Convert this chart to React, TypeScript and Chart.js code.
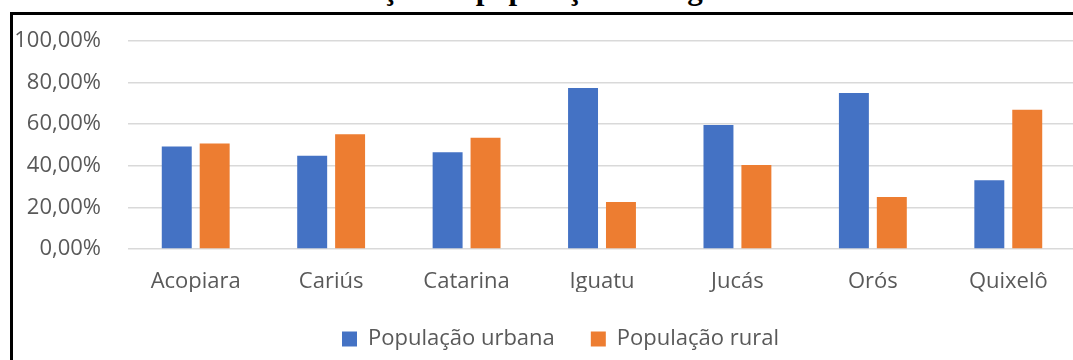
import React, { useEffect, useRef } from "react";
import { Chart, registerables } from "chart.js";

Chart.register(...registerables);

// Share of urban and rural population per municipality (%)
const municipios = ["Acopiara", "Cariús", "Catarina", "Iguatu", "Jucás", "Orós", "Quixelô"];
const populacaoUrbana = [49.3, 44.8, 46.5, 77.4, 59.6, 75.0, 33.0];
const populacaoRural = [50.7, 55.2, 53.5, 22.6, 40.4, 25.0, 67.0];
const seriesNames = ["População urbana", "População rural"];
const seriesColors = ["#4472C4", "#ED7D31"];
const yTickValues = [0, 20, 40, 60, 80, 100];
const titleText = "Distribuição da população na região";

const FONT = "'Open Sans', 'Noto Sans', sans-serif";
const TEXT_COLOR = "#595959";

const formatPct = (v: number) => v.toFixed(2).replace(".", ",") + "%";

// Nudges the legend row to the right so it sits under the plot area's centre.
const legendShift = {
  id: "legendShift",
  afterLayout(chart: any) {
    if (chart.legend) {
      chart.legend.left += 45;
    }
  },
};

export default function App() {
  const canvasRef = useRef<HTMLCanvasElement | null>(null);

  useEffect(() => {
    const canvas = canvasRef.current;
    if (!canvas) return;
    const chart = new Chart(canvas, {
      type: "bar",
      data: {
        labels: municipios,
        datasets: [
          {
            label: seriesNames[0],
            data: populacaoUrbana,
            backgroundColor: seriesColors[0],
            borderWidth: 0,
            categoryPercentage: 0.56,
            barPercentage: 0.79,
          },
          {
            label: seriesNames[1],
            data: populacaoRural,
            backgroundColor: seriesColors[1],
            borderWidth: 0,
            categoryPercentage: 0.56,
            barPercentage: 0.79,
          },
        ],
      },
      plugins: [legendShift],
      options: {
        responsive: false,
        animation: false,
        layout: { padding: { top: 41, left: 0, right: 0, bottom: 0 } },
        plugins: {
          title: { display: false },
          tooltip: { enabled: false },
          legend: {
            position: "bottom",
            align: "center",
            labels: {
              boxWidth: 15,
              boxHeight: 15,
              padding: 36,
              color: TEXT_COLOR,
              font: { family: FONT, size: 22 },
            },
          },
        },
        scales: {
          x: {
            grid: { display: false, drawTicks: false },
            border: { display: false },
            ticks: {
              color: TEXT_COLOR,
              padding: 20,
              font: { family: FONT, size: 22 },
              maxRotation: 0,
              autoSkip: false,
            },
            afterFit: (scale: any) => {
              scale.height = 43;
            },
          },
          y: {
            min: 0,
            max: 100,
            grid: { color: "#d9d9d9", lineWidth: 1.5, drawTicks: false },
            border: { display: false },
            afterBuildTicks: (scale: any) => {
              scale.ticks = yTickValues.map((v) => ({ value: v }));
            },
            ticks: {
              color: TEXT_COLOR,
              padding: 27,
              font: { family: FONT, size: 22 },
              callback: (v: any) => formatPct(Number(v)),
            },
            afterFit: (scale: any) => {
              scale.width = 128;
            },
          },
        },
      },
    });
    return () => chart.destroy();
  }, []);

  return (
    <div
      style={{
        position: "fixed",
        left: 0,
        top: 0,
        width: 1073,
        height: 360,
        overflow: "hidden",
        background: "#ffffff",
      }}
    >
      <div
        style={{
          position: "absolute",
          left: 264,
          top: -27,
          fontFamily: "'Liberation Serif', 'Times New Roman', serif",
          fontWeight: "bold",
          fontSize: 31,
          lineHeight: "31px",
          whiteSpace: "nowrap",
          color: "#000",
        }}
      >
        {titleText}
      </div>
      <canvas
        ref={canvasRef}
        width={1076}
        height={360}
        style={{ position: "absolute", left: 0, top: 0, width: 1076, height: 360, display: "block" }}
      />
      <div
        style={{
          position: "absolute",
          left: 10,
          top: 12,
          width: 1100,
          height: 400,
          borderTop: "3px solid #000",
          borderLeft: "3px solid #000",
          pointerEvents: "none",
        }}
      />
    </div>
  );
}
